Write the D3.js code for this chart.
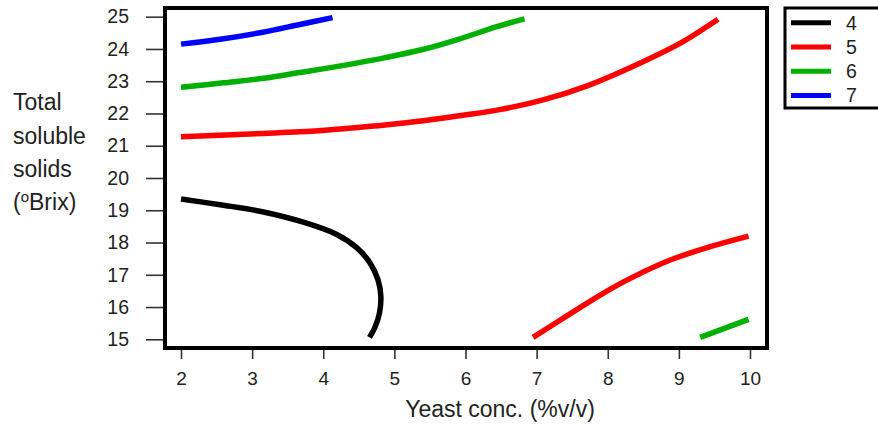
<!DOCTYPE html>
<html>
<head>
<meta charset="utf-8">
<script src="https://cdn.jsdelivr.net/npm/d3@7"></script>
<style>
  body { margin: 0; background: #fff; }
  svg { display: block; font-family: "Liberation Sans", Arial, sans-serif; }
</style>
</head>
<body>
<div id="chart"></div>
<script>
// Contour levels and colours
var levels = ["4", "5", "6", "7"];
var levelColors = ["#000000", "#ff0000", "#00b000", "#0000ff"];

// Contour lines: [yeast conc, TSS]
var contour4 = [[2.0, 19.35], [2.55, 19.17], [3.11, 18.97], [3.72, 18.63], [4.19, 18.25],
    [4.47, 17.84], [4.66, 17.36], [4.77, 16.84], [4.81, 16.32], [4.79, 15.81],
    [4.73, 15.39], [4.65, 15.06]];
var contour5a = [[2.0, 21.28], [3.15, 21.38], [3.67, 21.43], [4.28, 21.53], [4.87, 21.64],
    [5.43, 21.78], [5.99, 21.95], [6.48, 22.12], [7.09, 22.42], [7.70, 22.85],
    [8.45, 23.56], [9.06, 24.23], [9.55, 24.92]];
var contour5b = [[6.95, 15.06], [7.42, 15.72], [7.9, 16.38], [8.31, 16.88], [8.87, 17.45],
    [9.44, 17.87], [9.98, 18.2]];
var contour6a = [[2.0, 22.81], [2.6, 22.95], [3.16, 23.09], [3.67, 23.27], [4.31, 23.5],
    [4.89, 23.74], [5.41, 23.99], [5.9, 24.3], [6.44, 24.69], [6.83, 24.93]];
var contour6b = [[9.3, 15.06], [9.98, 15.62]];
var contour7 = [[2.0, 24.15], [2.55, 24.3], [3.15, 24.52], [3.67, 24.76], [4.13, 24.97]];

var xTicks = [2, 3, 4, 5, 6, 7, 8, 9, 10];
var yTicks = [15, 16, 17, 18, 19, 20, 21, 22, 23, 24, 25];

var width = 878, height = 425;

var svg = d3.select("#chart").append("svg")
    .attr("width", width)
    .attr("height", height);

var x = d3.scaleLinear().domain([2, 10]).range([181, 750]);
var y = d3.scaleLinear().domain([15, 25]).range([339.3, 16.7]);

// plot frame
var frame = {left: 165, right: 767, top: 8, bottom: 348};

// axes
var xAxis = svg.append("g")
    .attr("transform", "translate(0," + frame.bottom + ")")
    .call(d3.axisBottom(x).tickValues(xTicks).tickSize(11).tickPadding(13).tickFormat(d3.format("d")))
    .attr("font-size", 19)
    .attr("font-family", "'Liberation Sans', Arial, sans-serif");
var yAxis = svg.append("g")
    .attr("transform", "translate(" + frame.left + ",0)")
    .call(d3.axisLeft(y).tickValues(yTicks).tickSize(19).tickPadding(17).tickFormat(d3.format("d")))
    .attr("font-size", 19.5)
    .attr("font-family", "'Liberation Sans', Arial, sans-serif");

[xAxis, yAxis].forEach(function (g) {
    g.select(".domain").remove();
    g.selectAll(".tick line").attr("stroke", "#333").attr("stroke-width", 1.6);
    g.selectAll(".tick text").attr("fill", "#222");
});

// contour lines
var line = d3.line()
    .x(function (d) { return x(d[0]); })
    .y(function (d) { return y(d[1]); })
    .curve(d3.curveCatmullRom.alpha(0.5));

var contours = [
    {pts: contour4, color: levelColors[0]},
    {pts: contour5a, color: levelColors[1]},
    {pts: contour5b, color: levelColors[1]},
    {pts: contour6a, color: levelColors[2]},
    {pts: contour6b, color: levelColors[2]},
    {pts: contour7, color: levelColors[3]}
];

svg.append("g").selectAll("path")
    .data(contours)
    .enter()
    .append("path")
    .attr("d", function (d) { return line(d.pts); })
    .attr("fill", "none")
    .attr("stroke", function (d) { return d.color; })
    .attr("stroke-width", 5.5);

svg.append("rect")
    .attr("x", frame.left)
    .attr("y", frame.top)
    .attr("width", frame.right - frame.left)
    .attr("height", frame.bottom - frame.top)
    .attr("fill", "none")
    .attr("stroke", "#000")
    .attr("stroke-width", 4);

// axis titles
svg.append("text")
    .attr("x", 500)
    .attr("y", 417)
    .attr("text-anchor", "middle")
    .attr("fill", "#222")
    .style("font-size", "23px")
    .text("Yeast conc. (%v/v)");

var yTitle = svg.append("text")
    .attr("fill", "#222")
    .style("font-size", "23px");
yTitle.append("tspan").attr("x", 13).attr("y", 110).text("Total");
yTitle.append("tspan").attr("x", 13).attr("y", 143.5).text("soluble");
yTitle.append("tspan").attr("x", 13).attr("y", 177).text("solids");
var brix = yTitle.append("tspan").attr("x", 13).attr("y", 210);
brix.append("tspan").text("(");
brix.append("tspan").attr("dy", -8).style("font-size", "15px").text("o");
brix.append("tspan").attr("dy", 8).text("Brix)");

// legend
var legend = svg.append("g");
legend.append("rect")
    .attr("x", 785)
    .attr("y", 8)
    .attr("width", 120)
    .attr("height", 100)
    .attr("fill", "#fff")
    .attr("stroke", "#000")
    .attr("stroke-width", 3);

var items = legend.selectAll("g.item")
    .data(levels)
    .enter()
    .append("g")
    .attr("class", "item")
    .attr("transform", function (d, i) { return "translate(0," + (22.7 + i * 24.3) + ")"; });

items.append("line")
    .attr("x1", 791).attr("x2", 831)
    .attr("stroke", function (d, i) { return levelColors[i]; })
    .attr("stroke-width", 5);

items.append("text")
    .attr("x", 846)
    .attr("dy", "0.35em")
    .attr("fill", "#222")
    .style("font-size", "19.5px")
    .text(function (d) { return d; });
</script>
</body>
</html>
